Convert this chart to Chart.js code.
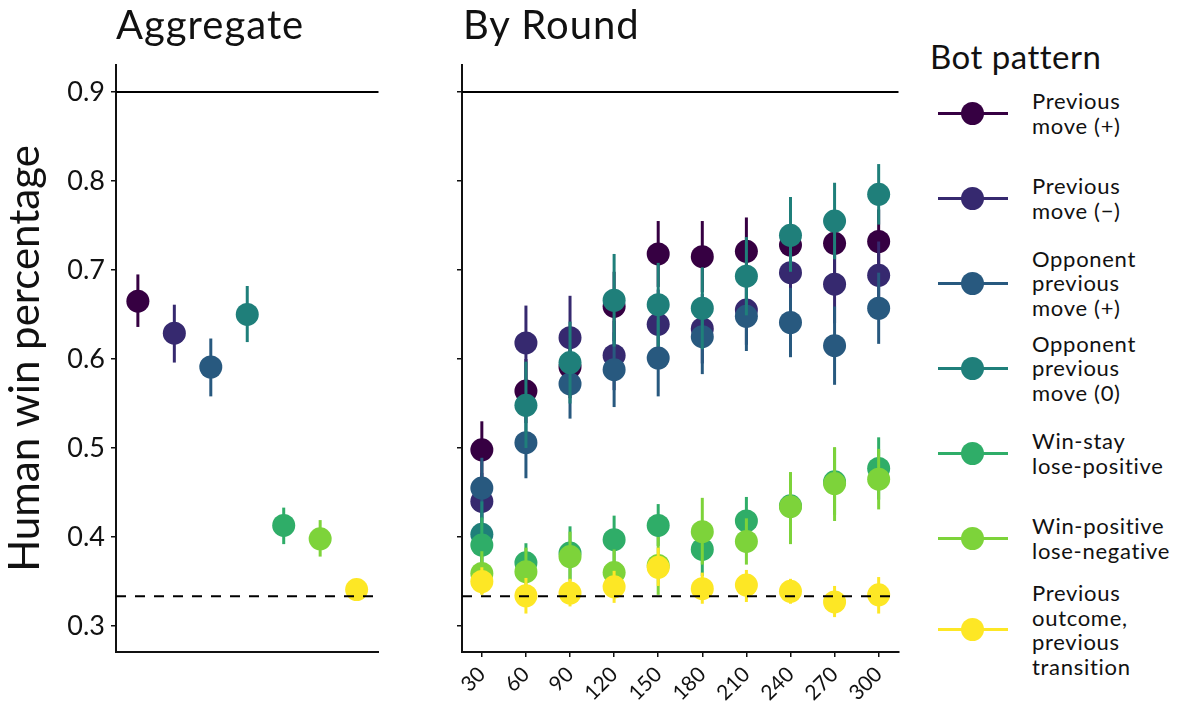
<!DOCTYPE html>
<html>
<head>
<meta charset="utf-8">
<script src="https://cdn.jsdelivr.net/npm/chart.js@4.4.0/dist/chart.umd.min.js"></script>
<style>
  body { margin: 0; background: #fff; font-family: Lato, sans-serif; }
  #wrap { position: relative; width: 1178px; height: 702px; }
  canvas { position: absolute; top: 0; }
  #aggCanvas { left: 0; }
  #roundCanvas { left: 400px; }
  .panelTitle { position: absolute; top: 0px; font-size: 40px; letter-spacing: 1px; color: #111; }
  #legend { position: absolute; left: 930px; top: 30px; color: #111; }
  #legend .ttl { font-size: 33px; letter-spacing: 0.5px; height: 41px; line-height: 52px; }
  .item { display: flex; align-items: center; min-height: 85px; }
  .key { position: relative; width: 102px; height: 30px; flex: none; }
  .key .ln { position: absolute; left: 8px; top: 13px; width: 70px; height: 3px; }
  .key .dot { position: absolute; left: 31px; top: 3px; width: 23px; height: 23px; border-radius: 50%; }
  .lbl { font-size: 22px; letter-spacing: 0.7px; line-height: 24.5px; white-space: pre; }
</style>
</head>
<body>
<div id="wrap">
  <canvas id="aggCanvas" width="390" height="702"></canvas>
  <canvas id="roundCanvas" width="510" height="702"></canvas>
  <div class="panelTitle" style="left:116px">Aggregate</div>
  <div class="panelTitle" style="left:463px">By Round</div>
  <div id="legend"><div class="ttl">Bot pattern</div></div>
</div>
<script>
var seriesNames = [
  'Previous\nmove (+)',
  'Previous\nmove (\u2212)',
  'Opponent\nprevious\nmove (+)',
  'Opponent\nprevious\nmove (0)',
  'Win-stay\nlose-positive',
  'Win-positive\nlose-negative',
  'Previous\noutcome,\nprevious\ntransition'
];
var seriesColors = ['#360042', '#36296f', '#28597f', '#1f7f7a', '#2fad68', '#7dd33a', '#fde725'];

var rounds = [30, 60, 90, 120, 150, 180, 210, 240, 270, 300];
var yTicks = [0.3, 0.4, 0.5, 0.6, 0.7, 0.8, 0.9];
var ceilingLine = 0.9;
var chanceLine = 1 / 3;

// aggregate win rate per bot, with interval
var aggMean = [0.665, 0.629, 0.591, 0.650, 0.413, 0.398, 0.341];
var aggLow  = [0.636, 0.596, 0.558, 0.619, 0.392, 0.378, 0.335];
var aggHigh = [0.695, 0.661, 0.623, 0.682, 0.433, 0.419, 0.348];

// by round, one row per bot
var roundMean = [
  [0.498, 0.564, 0.591, 0.659, 0.718, 0.715, 0.721, 0.728, 0.730, 0.732],
  [0.440, 0.618, 0.624, 0.604, 0.639, 0.634, 0.655, 0.697, 0.684, 0.694],
  [0.455, 0.506, 0.572, 0.588, 0.601, 0.625, 0.648, 0.641, 0.615, 0.657],
  [0.403, 0.548, 0.596, 0.666, 0.661, 0.657, 0.693, 0.739, 0.755, 0.785],
  [0.391, 0.371, 0.382, 0.397, 0.413, 0.386, 0.418, 0.435, 0.462, 0.477],
  [0.359, 0.361, 0.378, 0.360, 0.368, 0.406, 0.395, 0.434, 0.460, 0.465],
  [0.350, 0.334, 0.337, 0.344, 0.366, 0.342, 0.346, 0.339, 0.327, 0.335]
];
var roundLow = [
  [0.466, 0.528, 0.556, 0.620, 0.681, 0.675, 0.683, 0.690, 0.693, 0.696],
  [0.408, 0.576, 0.577, 0.565, 0.600, 0.595, 0.616, 0.660, 0.640, 0.656],
  [0.421, 0.466, 0.533, 0.546, 0.558, 0.583, 0.609, 0.602, 0.571, 0.617],
  [0.366, 0.500, 0.550, 0.614, 0.614, 0.611, 0.649, 0.698, 0.712, 0.751],
  [0.360, 0.349, 0.352, 0.370, 0.390, 0.356, 0.391, 0.398, 0.425, 0.442],
  [0.336, 0.335, 0.350, 0.334, 0.335, 0.369, 0.369, 0.392, 0.418, 0.431],
  [0.335, 0.314, 0.322, 0.326, 0.345, 0.325, 0.327, 0.325, 0.310, 0.314]
];
var roundHigh = [
  [0.530, 0.600, 0.628, 0.698, 0.755, 0.755, 0.759, 0.766, 0.767, 0.768],
  [0.472, 0.660, 0.671, 0.643, 0.678, 0.673, 0.694, 0.734, 0.728, 0.732],
  [0.489, 0.546, 0.611, 0.630, 0.644, 0.667, 0.687, 0.680, 0.659, 0.697],
  [0.440, 0.597, 0.642, 0.718, 0.708, 0.703, 0.737, 0.782, 0.798, 0.819],
  [0.422, 0.393, 0.412, 0.424, 0.437, 0.416, 0.445, 0.472, 0.500, 0.512],
  [0.384, 0.388, 0.406, 0.386, 0.400, 0.444, 0.421, 0.473, 0.501, 0.499],
  [0.366, 0.354, 0.353, 0.362, 0.388, 0.360, 0.363, 0.353, 0.345, 0.355]
];

var ink = '#111';
var yMin = 0.2708, yMax = 0.9303;

// vertical interval under each dataset's points
var errorBars = {
  id: 'errorBars',
  beforeDatasetDraw: function (chart, args) {
    var ds = chart.data.datasets[args.index];
    var ys = chart.scales.y;
    var ctx = chart.ctx;
    ctx.save();
    ctx.strokeStyle = ds.backgroundColor;
    ctx.lineWidth = 3;
    args.meta.data.forEach(function (pt, i) {
      ctx.beginPath();
      ctx.moveTo(pt.x, ys.getPixelForValue(ds.lo[i]));
      ctx.lineTo(pt.x, ys.getPixelForValue(ds.hi[i]));
      ctx.stroke();
    });
    ctx.restore();
  }
};

// ceiling and chance lines on top
var refLines = {
  id: 'refLines',
  afterDatasetsDraw: function (chart) {
    var ctx = chart.ctx, a = chart.chartArea, ys = chart.scales.y;
    ctx.save();
    ctx.strokeStyle = '#000';
    ctx.lineWidth = 2;
    var y1 = ys.getPixelForValue(ceilingLine);
    ctx.beginPath(); ctx.moveTo(a.left, y1); ctx.lineTo(a.right, y1); ctx.stroke();
    var y2 = ys.getPixelForValue(chanceLine);
    ctx.setLineDash([10, 9]);
    ctx.beginPath(); ctx.moveTo(a.left, y2); ctx.lineTo(a.right, y2); ctx.stroke();
    ctx.restore();
  }
};

function yScale(showLabels, width) {
  return {
    min: yMin, max: yMax,
    afterBuildTicks: function (s) { s.ticks = yTicks.map(function (v) { return { value: v }; }); },
    afterFit: function (s) { s.width = width; },
    ticks: {
      display: showLabels, color: ink, padding: 6,
      font: { family: 'Lato', size: 27 },
      callback: function (v) { return v.toFixed(1); }
    },
    grid: { display: true, drawOnChartArea: false, drawTicks: true, tickLength: 5, color: ink, lineWidth: 1.5 },
    border: { display: true, color: ink, width: 2 },
    title: {
      display: showLabels, text: 'Human win percentage', color: ink,
      font: { family: 'Lato', size: 42, lineHeight: 1.2 }, padding: { top: 0, bottom: 0 }
    }
  };
}

var common = {
  responsive: false,
  devicePixelRatio: 1,
  animation: false,
  events: [],
  plugins: { legend: { display: false }, tooltip: { enabled: false } },
  elements: { point: { radius: 11.5, borderWidth: 0 } }
};

// left panel
var aggData = seriesNames.map(function (n, i) {
  return {
    label: n,
    data: [{ x: i, y: aggMean[i] }],
    lo: [aggLow[i]], hi: [aggHigh[i]],
    backgroundColor: seriesColors[i],
    borderColor: seriesColors[i],
    order: seriesNames.length - 1 - i
  };
});

new Chart(document.getElementById('aggCanvas'), {
  type: 'scatter',
  data: { datasets: aggData },
  options: Object.assign({}, common, {
    layout: { padding: { top: 65, right: 11, bottom: 0, left: 0 } },
    scales: {
      x: {
        type: 'linear', min: -0.6, max: seriesNames.length - 0.4,
        afterFit: function (s) { s.height = 50; },
        ticks: { display: false },
        grid: { display: false },
        border: { display: true, color: ink, width: 2 }
      },
      y: yScale(true, 116)
    }
  }),
  plugins: [errorBars, refLines]
});

// right panel
var roundData = seriesNames.map(function (n, i) {
  return {
    label: n,
    data: rounds.map(function (r, j) { return { x: r, y: roundMean[i][j] }; }),
    lo: roundLow[i], hi: roundHigh[i],
    backgroundColor: seriesColors[i],
    borderColor: seriesColors[i],
    order: seriesNames.length - 1 - i
  };
});

var span = rounds[rounds.length - 1] - rounds[0];
new Chart(document.getElementById('roundCanvas'), {
  type: 'scatter',
  data: { datasets: roundData },
  options: Object.assign({}, common, {
    layout: { padding: { top: 65, right: 7, bottom: 0, left: 0 } },
    scales: {
      x: {
        type: 'linear', min: rounds[0] - span * 0.05, max: rounds[rounds.length - 1] + span * 0.05,
        afterBuildTicks: function (s) { s.ticks = rounds.map(function (v) { return { value: v }; }); },
        afterFit: function (s) { s.height = 50; },
        ticks: { color: ink, padding: 5, minRotation: 45, maxRotation: 45, font: { family: 'Lato', size: 21 } },
        grid: { display: true, drawOnChartArea: false, drawTicks: true, tickLength: 5, color: ink, lineWidth: 1.5 },
        border: { display: true, color: ink, width: 2 }
      },
      y: yScale(false, 62)
    }
  }),
  plugins: [errorBars, refLines]
});

// legend
var legend = document.getElementById('legend');
seriesNames.forEach(function (n, i) {
  var item = document.createElement('div');
  item.className = 'item';
  if (n.split('\n').length > 3) item.style.minHeight = '98px';
  item.innerHTML = '<div class="key"><div class="ln" style="background:' + seriesColors[i] + '"></div>' +
    '<div class="dot" style="background:' + seriesColors[i] + '"></div></div>';
  var lbl = document.createElement('div');
  lbl.className = 'lbl';
  lbl.textContent = n;
  item.appendChild(lbl);
  legend.appendChild(item);
});
</script>
</body>
</html>
